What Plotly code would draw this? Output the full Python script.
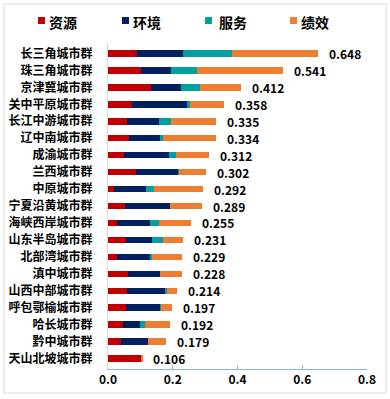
import plotly.graph_objects as go

categories = ["长三角城市群", "珠三角城市群", "京津冀城市群", "关中平原城市群", "长江中游城市群",
              "辽中南城市群", "成渝城市群", "兰西城市群", "中原城市群", "宁夏沿黄城市群",
              "海峡西岸城市群", "山东半岛城市群", "北部湾城市群", "滇中城市群", "山西中部城市群",
              "呼包鄂榆城市群", "哈长城市群", "黔中城市群", "天山北坡城市群"]
resources = [0.091, 0.102, 0.134, 0.074, 0.059, 0.064, 0.049, 0.088, 0.017, 0.052,
             0.029, 0.056, 0.027, 0.063, 0.060, 0.057, 0.047, 0.040, 0.105]
environment = [0.140, 0.093, 0.090, 0.171, 0.100, 0.097, 0.138, 0.129, 0.100, 0.140,
               0.101, 0.079, 0.105, 0.099, 0.118, 0.105, 0.051, 0.085, 0.000]
service = [0.153, 0.079, 0.060, 0.007, 0.036, 0.008, 0.024, 0.003, 0.024, 0.001,
           0.026, 0.034, 0.005, 0.000, 0.003, 0.001, 0.015, 0.000, 0.000]
performance = [0.264, 0.267, 0.128, 0.106, 0.140, 0.165, 0.101, 0.082, 0.151, 0.096,
               0.099, 0.062, 0.092, 0.066, 0.033, 0.034, 0.079, 0.054, 0.001]
totals = [0.648, 0.541, 0.412, 0.358, 0.335, 0.334, 0.312, 0.302, 0.292, 0.289,
          0.255, 0.231, 0.229, 0.228, 0.214, 0.197, 0.192, 0.179, 0.106]
series_names = ["资源", "环境", "服务", "绩效"]
x_ticks = [0.0, 0.2, 0.4, 0.6, 0.8]

colors = ["#C00000", "#002060", "#00A09E", "#ED7D31"]
FONT = "Noto Sans CJK SC, Noto Sans, sans-serif"

W, H = 390, 399
ML, MR, MT, MB = 108, 23, 43, 30
PW, PH = W - ML - MR, H - MT - MB


def px_x(p):
    return (p - ML) / PW


def px_y(p):
    return (H - MB - p) / PH


fig = go.Figure()
for name, vals, c in zip(series_names, [resources, environment, service, performance], colors):
    fig.add_trace(go.Bar(y=categories, x=vals, name=name, orientation="h", showlegend=False,
                         marker=dict(color=c, line=dict(width=0)), hoverinfo="x+name"))

for cat, t in zip(categories, totals):
    fig.add_annotation(x=t, y=cat, text=f"{t:.3f}", showarrow=False, xanchor="left",
                       yanchor="middle", xshift=9,
                       font=dict(family=FONT, size=12, color="#000000", weight="bold"))

# legend (squares + labels) at the top
legend_sq_left = [38, 122, 205, 290]
legend_txt_left = [47, 131, 217, 299]
for name, c, sx, tx in zip(series_names, colors, legend_sq_left, legend_txt_left):
    fig.add_shape(type="rect", xref="paper", yref="paper",
                  x0=px_x(sx), x1=px_x(sx + 7), y0=px_y(24), y1=px_y(17),
                  fillcolor=c, line=dict(width=0))
    fig.add_annotation(xref="paper", yref="paper", x=px_x(tx), y=px_y(21.5), text=name,
                       showarrow=False, xanchor="left", yanchor="middle",
                       font=dict(family=FONT, size=14, color="#000000", weight="bold"))

# outer frame
fig.add_shape(type="rect", xref="paper", yref="paper", x0=px_x(4), x1=px_x(386),
              y0=px_y(393), y1=px_y(4),
              line=dict(color="#D9D9D9", width=1), fillcolor="rgba(0,0,0,0)", layer="below")

fig.update_layout(
    width=W, height=H,
    margin=dict(l=ML, r=MR, t=MT, b=MB, autoexpand=False),
    barmode="stack", bargap=0.62,
    plot_bgcolor="white", paper_bgcolor="white",
    font=dict(family=FONT, size=12, color="#000000", weight="bold"),
    showlegend=False,
    xaxis=dict(range=[0, 0.8], tickvals=x_ticks, ticktext=[f"{v:.1f}" for v in x_ticks],
               showgrid=False, zeroline=False, showline=True, linecolor="#8EB4E3", linewidth=1,
               ticks="inside", ticklen=4, tickcolor="#8EB4E3", automargin=False,
               tickfont=dict(family=FONT, size=12, color="#000000", weight="bold")),
    yaxis=dict(autorange="reversed", showgrid=False, zeroline=False, showline=True,
               linecolor="#D9D9D9", linewidth=1, ticks="", ticklabelstandoff=12, automargin=False,
               tickfont=dict(family=FONT, size=12, color="#000000", weight="bold")),
)

fig.write_html("out.html", config={"displayModeBar": False},
               post_script="document.body.style.margin='0';document.body.style.overflow='hidden';")
